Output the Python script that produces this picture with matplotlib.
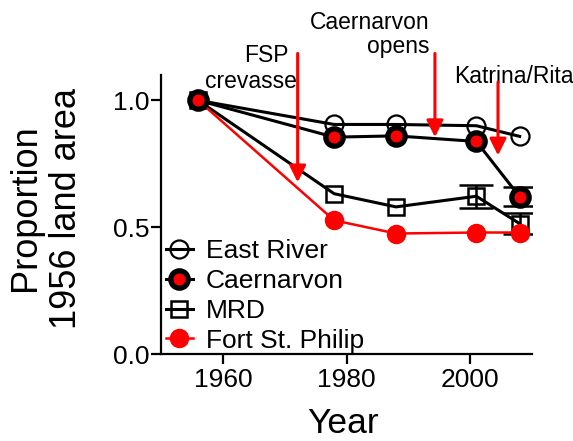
import matplotlib as mpl
mpl.use("Agg")
import matplotlib.pyplot as plt
from matplotlib.lines import Line2D

# --- data ---
years = [1956, 1978, 1988, 2001, 2008]
east_river = [1.0, 0.905, 0.905, 0.90, 0.858]
caernarvon = [1.0, 0.855, 0.860, 0.838, 0.620]
caer_err = [0, 0, 0, 0, 0.037]
mrd = [1.0, 0.632, 0.580, 0.622, 0.514]
mrd_err = [0, 0, 0, 0.045, 0.040]
fort_st_philip = [1.0, 0.527, 0.475, 0.479, 0.479]

# events: (year, arrow tip, arrow start)
event_years = [1972.1, 1994.3, 2004.5]
event_tip = [0.677, 0.855, 0.783]
event_top = [1.185, 1.185, 1.072]

mpl.rcParams.update({
    "font.family": ["Liberation Sans", "DejaVu Sans"],
    "axes.linewidth": 1.6,
})

RED = "#ff0000"


def draw_err(ax, xs, ys, errs, z):
    # only the points that carry an error bar
    pts = [(x, y, e) for x, y, e in zip(xs, ys, errs) if e > 0]
    if not pts:
        return
    ex, ey, ee = zip(*pts)
    ax.errorbar(ex, ey, yerr=ee, fmt="none", ecolor="black", elinewidth=1.8,
                capsize=12, capthick=1.8, zorder=z)


fig = plt.figure(figsize=(5.73, 4.41), dpi=100)
ax = fig.add_axes([161 / 573, 1 - 354 / 441, (532 - 161) / 573, (354 - 75) / 441])

lw = 2.2
mrd_style = dict(color="black", lw=lw, marker="s", ms=12, mfc="none", mec="black", mew=1.8)
fsp_style = dict(color=RED, lw=1.8, marker="o", ms=13, mfc=RED, mec=RED)
er_style = dict(color="black", lw=lw, marker="o", ms=13, mfc="none", mec="black", mew=1.6)
caer_style = dict(color="black", lw=lw, marker="o", ms=12.5, mfc=RED, mec="black", mew=3.8)

draw_err(ax, years, mrd, mrd_err, 2)
ax.plot(years, mrd, zorder=2, **mrd_style)
ax.plot(years, fort_st_philip, zorder=3, **fsp_style)
ax.plot(years, east_river, zorder=4, **er_style)
draw_err(ax, years, caernarvon, caer_err, 5)
ax.plot(years, caernarvon, zorder=5, **caer_style)

# event arrows
for yr, tip, top in zip(event_years, event_tip, event_top):
    ax.annotate("", xy=(yr, tip), xytext=(yr, top), annotation_clip=False,
                arrowprops=dict(arrowstyle="-|>,head_length=0.5,head_width=0.25",
                                mutation_scale=20, color=RED, lw=2.2,
                                shrinkA=0, shrinkB=0), zorder=6)

tfs = 16.5
ax.text(1967.1, 1.15, "FSP", ha="center", va="baseline", fontsize=tfs, clip_on=False)
ax.text(1964.5, 1.047, "crevasse", ha="center", va="baseline", fontsize=tfs, clip_on=False)
ax.text(1993.4, 1.283, "Caernarvon", ha="right", va="baseline", fontsize=tfs, clip_on=False)
ax.text(1993.4, 1.185, "opens", ha="right", va="baseline", fontsize=tfs, clip_on=False)
ax.text(2007.0, 1.067, "Katrina/Rita", ha="center", va="baseline", fontsize=tfs, clip_on=False)

ax.set_xlim(1950, 2010)
ax.set_ylim(0, 1.1)
ax.set_xticks([1960, 1980, 2000])
ax.set_yticks([0.0, 0.5, 1.0])
ax.set_yticklabels(["0.0", "0.5", "1.0"])
ax.spines["top"].set_visible(False)
ax.spines["right"].set_visible(False)
ax.tick_params(axis="both", direction="out", length=7, width=1.6, labelsize=19)
ax.tick_params(axis="y", pad=1)
ax.tick_params(axis="x", pad=3)

ax.set_xlabel("Year", fontsize=25.5, va="baseline")
ax.xaxis.set_label_coords(0.49, -0.283)
ax.set_ylabel("Proportion\n1956 land area", fontsize=26, ha="center", va="center",
              multialignment="center", linespacing=1.2)
ax.yaxis.set_label_coords(-0.31, 0.523)

handles = [Line2D([], [], **er_style), Line2D([], [], **caer_style),
           Line2D([], [], **mrd_style), Line2D([], [], **fsp_style)]
labels = ["East River", "Caernarvon", "MRD", "Fort St. Philip"]
ax.legend(handles, labels, loc="upper left", bbox_to_anchor=(0.0, 0.43),
          frameon=False, fontsize=19, handlelength=1.0, handletextpad=0.5,
          labelspacing=0.22, borderpad=0.0, borderaxespad=0.2)

fig.savefig("out.png", dpi=100)
